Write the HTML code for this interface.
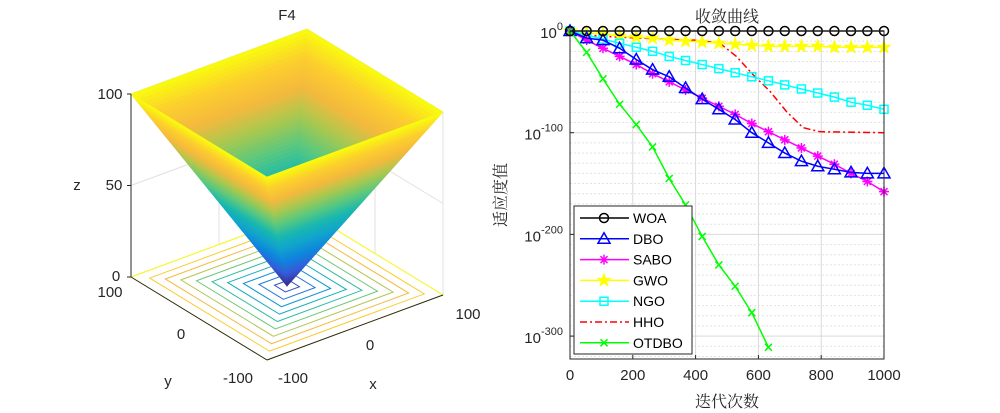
<!DOCTYPE html>
<html><head><meta charset="utf-8">
<style>
html,body{margin:0;padding:0;background:#fff;}
svg{display:block;font-family:"Liberation Sans",sans-serif;}
.cjk{font-family:"Liberation Serif","Noto Serif CJK SC",serif;}
</style></head>
<body>
<svg id="fig" width="1000" height="413" viewBox="0 0 1000 413" xmlns="http://www.w3.org/2000/svg">
  <g id="left"></g>
  <g id="right"></g>
</svg>
<script>
// ---------- Convergence data (log10 of fitness) ----------
const iterMarks = [0,53,105,158,211,263,316,368,421,474,526,579,632,684,737,789,842,895,947,1000];
const woaLog  = [0,0,0,0,0,0,0,0,0,0,0,0,0,0,0,0,0,0,0,0];
const dboLog  = [0,-7,-9,-17,-28,-38,-45,-56,-67,-77,-87,-100,-110,-120,-128,-133,-136,-139,-140,-140];
const saboLog = [0,-9,-17,-25,-33,-42,-50,-58,-66,-74,-82,-91,-99,-107,-115,-123,-131,-140,-148,-158];
const gwoLog  = [0,-2,-3,-5,-6,-7,-9,-10,-11,-12,-13,-14,-15,-15,-15,-15,-16,-16,-16,-16];
const ngoLog  = [0,-4,-8,-12,-16,-20,-25,-29,-33,-37,-41,-45,-49,-53,-57,-61,-65,-70,-73,-77];
const hhoIter = [0,53,150,300,400,477,530,583,636,689,742,795,1000];
const hhoLog  = [0,-4,-6,-8,-9,-12,-25,-43,-59,-79,-95,-99,-100];
const otdboIter = [0,53,105,158,211,263,316,368,421,474,526,579,632];
const otdboLog  = [0,-21,-47,-72,-92,-114,-145,-171,-202,-230,-251,-277,-311];
const xTicks = [0,200,400,600,800,1000];
const yTicks = [0,-100,-200,-300];

const NS="http://www.w3.org/2000/svg";
function mk(tag,attrs,parent){const e=document.createElementNS(NS,tag);for(const k in attrs)e.setAttribute(k,attrs[k]);parent.appendChild(e);return e;}

// ---------- Right chart ----------
const R=document.getElementById('right');
const X0=570,X1=884,YT=31,YB=359;
const xs=v=>X0+(v/1000)*(X1-X0);
const ys=l=>YT+(-l)*1.017;
for(let d=-10;d>=-320;d-=10){
  const major=d%100===0;
  const g=mk('line',{x1:X0,x2:X1,y1:ys(d),y2:ys(d),stroke:major?'#d9d9d9':'#e2e2e2','stroke-width':1,'stroke-dasharray':major?'none':'2,2'},R);
  
  
}
xTicks.forEach(t=>{if(t>0&&t<1000){const g=mk('line',{x1:xs(t),x2:xs(t),y1:YT,y2:YB,stroke:'#d9d9d9','stroke-width':1},R);
  }});
function poly(xsArr,ysArr,color,dash,name){
  const p=mk('polyline',{points:xsArr.map((v,i)=>xs(v)+','+ys(ysArr[i])).join(' '),fill:'none',stroke:color,'stroke-width':1.5,'stroke-dasharray':dash||'none'},R);
  
}
function marker(type,cx,cy,color,parent){
  let e;
  if(type==='o')e=mk('circle',{cx:cx,cy:cy,r:4.5,fill:'none',stroke:color,'stroke-width':1.5},parent);
  else if(type==='^')e=mk('polygon',{points:`${cx},${cy-6} ${cx-6},${cy+4.5} ${cx+6},${cy+4.5}`,fill:'none',stroke:color,'stroke-width':1.5},parent);
  else if(type==='s')e=mk('rect',{x:cx-4,y:cy-4,width:8,height:8,fill:'none',stroke:color,'stroke-width':1.5},parent);
  else if(type==='*'){e=mk('path',{d:`M${cx-5},${cy}H${cx+5}M${cx},${cy-5}V${cy+5}M${cx-3.5},${cy-3.5}L${cx+3.5},${cy+3.5}M${cx-3.5},${cy+3.5}L${cx+3.5},${cy-3.5}`,stroke:color,'stroke-width':1.5},parent);}
  else if(type==='x')e=mk('path',{d:`M${cx-3.5},${cy-3.5}L${cx+3.5},${cy+3.5}M${cx-3.5},${cy+3.5}L${cx+3.5},${cy-3.5}`,stroke:color,'stroke-width':1.5},parent);
  else if(type==='p'){let pts=[];for(let i=0;i<10;i++){const a=-Math.PI/2+i*Math.PI/5,r=i%2?2.6:6.5;pts.push((cx+r*Math.cos(a)).toFixed(1)+','+(cy+r*Math.sin(a)).toFixed(1));}
    e=mk('polygon',{points:pts.join(' '),fill:color,stroke:color,'stroke-width':1},parent);}
  return e;
}
function series(xArr,lArr,color,type,name,dash){
  poly(xArr,lArr,color,dash,name+'-line');
  if(type)xArr.forEach((v,i)=>{const m=marker(type,xs(v),ys(lArr[i]),color,R);
    });
}
series(hhoIter,hhoLog,'#ff0000',null,'hho','7,3,2,3');
series(iterMarks,gwoLog,'#ffff00','p','gwo');
series(iterMarks,ngoLog,'#00ffff','s','ngo');
series(iterMarks,saboLog,'#ff00ff','*','sabo');
series(iterMarks,dboLog,'#0000ff','^','dbo');
series(otdboIter,otdboLog,'#00ff00','x','otdbo');
series(iterMarks,woaLog,'#000000','o','woa');
const box=mk('rect',{x:X0,y:YT,width:X1-X0,height:YB-YT,fill:'none',stroke:'#262626','stroke-width':1},R);

xTicks.forEach(t=>{
  const tk=mk('line',{x1:xs(t),x2:xs(t),y1:YB,y2:YB-4,stroke:'#262626'},R);
  
  const tl=mk('text',{x:xs(t),y:380,'font-size':15,'text-anchor':'middle',fill:'#262626'},R);
  tl.textContent=t;
});
yTicks.forEach(t=>{
  const tk=mk('line',{x1:X0,x2:X0+4,y1:ys(t),y2:ys(t),stroke:'#262626'},R);
  
  const tl=mk('text',{x:563,y:ys(t)+7,'font-size':15,'text-anchor':'end',fill:'#262626'},R);
  
  const b=mk('tspan',{},tl);b.textContent='10';
  const ex=mk('tspan',{'font-size':11,dy:-8},tl);ex.textContent=String(t);
});
let tt=mk('text',{x:727,y:22,'font-size':16,'text-anchor':'middle',fill:'#262626',class:'cjk'},R);tt.textContent='收敛曲线';

tt=mk('text',{x:727,y:407,'font-size':16,'text-anchor':'middle',fill:'#262626',class:'cjk'},R);tt.textContent='迭代次数';

tt=mk('text',{x:0,y:0,'font-size':16,'text-anchor':'middle',fill:'#262626',class:'cjk',transform:'translate(506,195) rotate(-90)'},R);tt.textContent='适应度值';

const L=mk('g',{},R);
mk('rect',{x:574,y:206,width:118,height:148,fill:'#fff',stroke:'#262626','stroke-width':1},L);
const legNames=['WOA','DBO','SABO','GWO','NGO','HHO','OTDBO'];
const legColors=['#000000','#0000ff','#ff00ff','#ffff00','#00ffff','#ff0000','#00ff00'];
const legTypes=['o','^','*','p','s',null,'x'];
legNames.forEach((n,i)=>{
  const y=218+i*20.8;
  const g=mk('g',{},L);
  mk('line',{x1:580,x2:629,y1:y,y2:y,stroke:legColors[i],'stroke-width':1.5,'stroke-dasharray':legTypes[i]?'none':'7,3,2,3'},g);
  if(legTypes[i])marker(legTypes[i],604,y,legColors[i],g);
  const t=mk('text',{x:633,y:y+5,'font-size':14,fill:'#000'},g);t.textContent=n;
});

// ---------- Left 3D surface ----------
const Lg=document.getElementById('left');
const P=(x,y,z)=>[287+x*0.88-y*0.68, 286-x*0.325-y*0.415-z*1.83];
const parula=[[0.208,0.166,0.529],[0.212,0.359,0.851],[0.059,0.518,0.867],[0.067,0.639,0.808],[0.098,0.722,0.686],[0.353,0.784,0.498],[0.659,0.784,0.310],[0.957,0.729,0.239],[0.988,0.808,0.180],[0.976,0.984,0.055]];
function col(t){t=Math.max(0,Math.min(1,t));const f=t*(parula.length-1),i=Math.min(parula.length-2,Math.floor(f)),r=f-i;
  const c=parula[i].map((v,k)=>Math.round(255*(v+(parula[i+1][k]-v)*r)));return `rgb(${c[0]},${c[1]},${c[2]})`;}
const pts=a=>a.map(p=>p.join(',')).join(' ');
const grid=mk('g',{stroke:'#e0e0e0','stroke-width':1,fill:'none'},Lg);
[[P(-100,100,0),P(-100,100,100)],[P(0,100,0),P(0,100,100)],[P(100,100,0),P(100,100,100)],[P(100,0,0),P(100,0,100)],[P(100,-100,0),P(100,-100,100)],
 [P(-100,100,50),P(100,100,50)],[P(100,100,50),P(100,-100,50)],[P(-100,100,100),P(100,100,100)],[P(100,100,100),P(100,-100,100)],
 [P(-100,100,0),P(100,100,0)],[P(100,100,0),P(100,-100,0)]].forEach(s=>mk('line',{x1:s[0][0],y1:s[0][1],x2:s[1][0],y2:s[1][1]},grid));
const contourLevels=[8,18,28,38,48,58,68,78,88,100];
const cg=mk('g',{fill:'none','stroke-width':1},Lg);
contourLevels.forEach(c=>{mk('polygon',{points:pts([P(-c,-c,0),P(c,-c,0),P(c,c,0),P(-c,c,0)]),stroke:col(c/100)},cg);});
const N=60;
const sg=mk('g',{},Lg);
function face(fn){for(let k=0;k<N;k++){const a=100*k/N,b=100*(k+1)/N;const c=col((a+b)/200);
  mk('polygon',{points:pts(fn(a,b)),fill:c,stroke:c,'stroke-width':0.6},sg);}}
face((a,b)=>[P(-a,a,a),P(a,a,a),P(b,b,b),P(-b,b,b)]);
face((a,b)=>[P(a,-a,a),P(a,a,a),P(b,b,b),P(b,-b,b)]);
face((a,b)=>[P(-a,-a,a),P(-a,a,a),P(-b,b,b),P(-b,-b,b)]);
face((a,b)=>[P(-a,-a,a),P(a,-a,a),P(b,-b,b),P(-b,-b,b)]);
const ax=mk('g',{stroke:'#262626','stroke-width':1},Lg);
let a1=P(-100,100,0),a2=P(-100,100,100);mk('line',{x1:a1[0],y1:a1[1],x2:a2[0],y2:a2[1]},ax);
a1=P(-100,-100,0);a2=P(100,-100,0);mk('line',{x1:a1[0],y1:a1[1],x2:a2[0],y2:a2[1]},ax);
a2=P(-100,100,0);mk('line',{x1:a1[0],y1:a1[1],x2:a2[0],y2:a2[1]},ax);
[0,50,100].forEach(z=>{const p=P(-100,100,z);mk('line',{x1:p[0],y1:p[1],x2:p[0]-4,y2:p[1]},ax);});
function lbl(t,x,y,name,size){const e=mk('text',{x:x,y:y,'font-size':size||15,'text-anchor':'middle',fill:'#262626'},Lg);e.textContent=t;
  }
lbl('F4',287,20,'surface-title',15);
lbl('100',110,99,'z-tick-label');lbl('50',114,190,'z-tick-label');lbl('0',116,281,'z-tick-label');
lbl('z',77,190,'z-axis-title');
lbl('100',110,297,'y-tick-label');lbl('0',181,339,'y-tick-label');lbl('-100',238,383,'y-tick-label');lbl('y',168,386,'y-axis-title');
lbl('-100',293,383,'x-tick-label');lbl('0',370,350,'x-tick-label');lbl('100',468,319,'x-tick-label');lbl('x',373,389,'x-axis-title');
</script>
</body></html>
